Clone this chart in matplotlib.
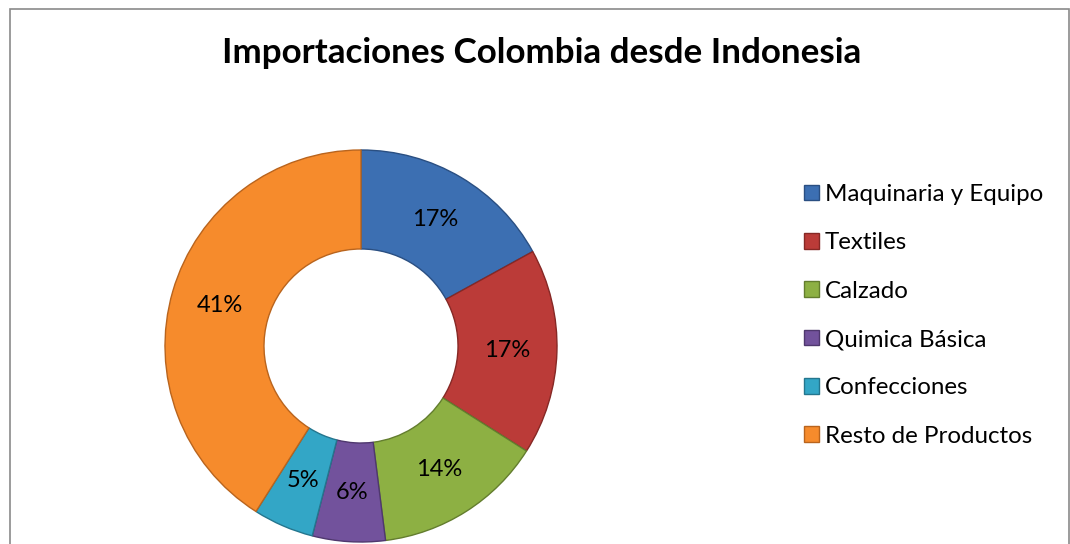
import matplotlib.pyplot as plt
from matplotlib.patches import Rectangle

categorias = ['Maquinaria y Equipo', 'Textiles', 'Calzado',
              'Quimica Básica', 'Confecciones', 'Resto de Productos']
valores = [17, 17, 14, 6, 5, 41]
colores = ['#3C6FB2', '#BB3B38', '#8DB043', '#72529C', '#33A6C6', '#F68B2C']
bordes = ['#2A4F82', '#862825', '#637D2E', '#4F386E', '#24768E', '#B9641D']
titulo = 'Importaciones Colombia desde Indonesia'

plt.rcParams['font.family'] = ['Lato', 'DejaVu Sans']

W, H = 1070, 544
fig = plt.figure(figsize=(W / 100, H / 100), dpi=100)

# marco del grafico
fig.patches.append(Rectangle((10 / W, -0.1), 1059 / W, 1.1 - 9 / H,
                             transform=fig.transFigure, fill=False,
                             edgecolor='#8a8a8a', linewidth=1.2))

fig.text(542 / W, 1 - 53 / H, titulo, ha='center', va='center',
         fontsize=25.2, fontweight='bold')

#*---------- dona ----------
cx, cy, r = 361, 346, 196
ax = fig.add_axes([(cx - r) / W, (H - cy - r) / H, 2 * r / W, 2 * r / H])
wedges, textos = ax.pie(valores, colors=colores, startangle=90, counterclock=False,
                        radius=1, wedgeprops=dict(width=0.505, linewidth=1),
                        labels=[f'{v}%' for v in valores], labeldistance=0.748,
                        textprops=dict(fontsize=17, ha='center', va='center'))
for w, b in zip(wedges, bordes):
    w.set_edgecolor(b)
ax.set_xlim(-1, 1)
ax.set_ylim(-1, 1)
ax.axis('off')

leg = fig.legend(wedges, categorias, loc='upper left',
                 bbox_to_anchor=(792 / W, 1 - 172 / H), frameon=False,
                 fontsize=17.4, handlelength=0.62, handleheight=0.62,
                 handletextpad=0.25, labelspacing=1.13, borderpad=0)

fig.savefig('out.png', dpi=100)
